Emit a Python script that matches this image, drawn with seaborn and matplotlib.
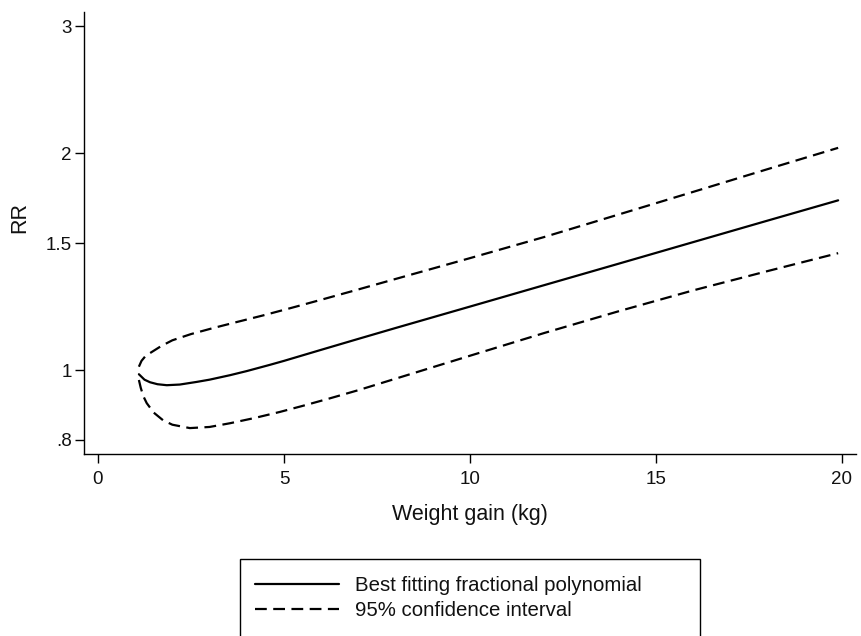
import numpy as np
import pandas as pd
import seaborn as sns
import matplotlib
matplotlib.use("Agg")
import matplotlib.pyplot as plt
from matplotlib.lines import Line2D
from matplotlib.patches import Rectangle

# Fitted relative risk by weight gain
x_fit = [1.1, 1.25, 1.4, 1.6, 1.85, 2.2, 2.65, 3.0, 3.55, 4.0, 4.62, 5.0,
         6.0, 7.0, 8.0, 10.0, 12.0, 14.0, 16.0, 18.0, 19.9]
rr_fit = [0.987, 0.970, 0.962, 0.956, 0.953, 0.955, 0.963, 0.970, 0.984, 0.997,
          1.017, 1.030, 1.067, 1.105, 1.144, 1.225, 1.312, 1.405, 1.505, 1.612, 1.720]

# Upper 95% confidence limit
x_upper = [1.1, 1.17, 1.27, 1.4, 1.7, 2.0, 2.5, 3.1, 3.7, 4.44, 5.2, 6.0,
           7.0, 8.0, 10.0, 12.0, 14.0, 16.0, 18.0, 19.9]
rr_upper = [1.011, 1.030, 1.045, 1.056, 1.080, 1.100, 1.122, 1.144, 1.165, 1.191,
            1.220, 1.252, 1.294, 1.338, 1.430, 1.530, 1.644, 1.767, 1.900, 2.034]

# Lower 95% confidence limit
x_lower = [1.1, 1.15, 1.22, 1.31, 1.5, 1.75, 2.0, 2.47, 3.0, 3.55, 4.2, 4.89,
           5.5, 6.24, 7.0, 8.0, 10.0, 12.0, 14.0, 16.0, 18.0, 19.9]
rr_lower = [0.969, 0.945, 0.920, 0.900, 0.873, 0.852, 0.840, 0.831, 0.834, 0.844,
            0.858, 0.875, 0.892, 0.914, 0.938, 0.973, 1.047, 1.126, 1.207, 1.290,
            1.372, 1.453]

y_ticks = [0.8, 1, 1.5, 2, 3]
y_tick_labels = [".8", "1", "1.5", "2", "3"]
x_ticks = [0, 5, 10, 15, 20]

sns.set_style("white")
plt.rcParams["font.family"] = ["Liberation Sans", "DejaVu Sans"]

W, H = 861, 636
fig = plt.figure(figsize=(W / 100, H / 100), dpi=100)
ax = fig.add_axes([84 / W, 1 - 454 / H, (856 - 84) / W, (454 - 12) / H])

dash = (0, (5.3, 2.9))
sns.lineplot(x=x_fit, y=rr_fit, ax=ax, color="black", lw=1.6, sort=False)
sns.lineplot(x=x_upper, y=rr_upper, ax=ax, color="black", lw=1.6, sort=False,
             linestyle=dash)
sns.lineplot(x=x_lower, y=rr_lower, ax=ax, color="black", lw=1.6, sort=False,
             linestyle=dash)

ax.set_yscale("log")
ax.set_ylim(0.765, 3.139)
ax.set_xlim(-0.376, 20.38)
ax.set_yticks(y_ticks)
ax.set_yticklabels(y_tick_labels)
ax.yaxis.set_minor_locator(matplotlib.ticker.NullLocator())
ax.set_xticks(x_ticks)
ax.set_xticklabels([str(t) for t in x_ticks])

for side in ["top", "right"]:
    ax.spines[side].set_visible(False)
for side in ["left", "bottom"]:
    ax.spines[side].set_color("black")
    ax.spines[side].set_linewidth(1.0)

ax.tick_params(axis="both", direction="out", length=6.5, width=1.0,
               color="black", labelsize=13.5, labelcolor="#111111",
               left=True, bottom=True)
ax.tick_params(axis="y", pad=2.2)
ax.tick_params(axis="x", pad=6.0)

ax.set_xlabel("Weight gain (kg)", fontsize=15.5, color="#111111", va="center")
ax.xaxis.set_label_coords(0.5, -0.138)
ax.set_ylabel("RR", fontsize=15.5, color="#111111", va="center")
ax.yaxis.set_label_coords(-0.083, 0.536)

handles = [Line2D([], [], color="black", lw=1.6),
           Line2D([], [], color="black", lw=1.6, linestyle=dash)]
labels = ["Best fitting fractional polynomial", "95% confidence interval"]
fig.legend(handles, labels, loc="upper left",
           bbox_to_anchor=(255 / W, 1 - 576 / H), frameon=False,
           fontsize=14.7, borderpad=0, borderaxespad=0,
           handlelength=4.1, handletextpad=0.78, labelspacing=0.3,
           labelcolor="#111111")

fig.patches.append(Rectangle((240 / W, -0.05), (700 - 240) / W,
                             0.05 + (1 - 559 / H), fill=False,
                             edgecolor="black", lw=1.0,
                             transform=fig.transFigure, clip_on=False))

fig.savefig("out.png", dpi=100)
